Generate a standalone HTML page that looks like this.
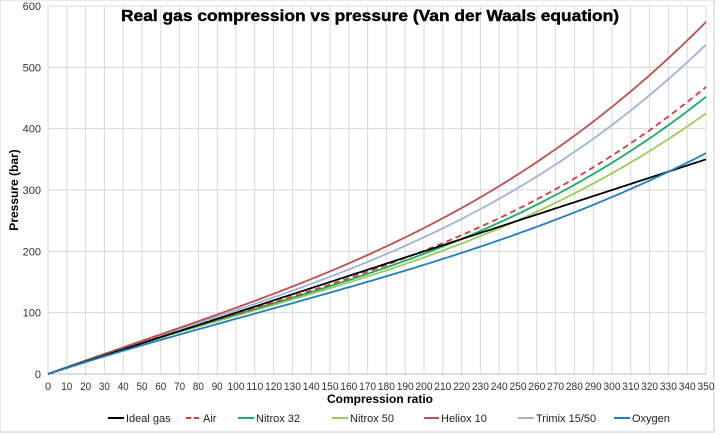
<!DOCTYPE html>
<html><head><meta charset="utf-8"><style>
html,body{margin:0;padding:0;background:#fff;width:720px;height:435px;overflow:hidden}
svg{display:block;font-family:"Liberation Sans",sans-serif}
</style></head><body>
<svg id="s" width="720" height="435" viewBox="0 0 720 435">
<rect x="0" y="0" width="714" height="432" fill="#fff" stroke="#d0d0d0" stroke-width="1"/>
<g id="grid"></g>
<g id="series"></g>
<text x="370" y="21" text-anchor="middle" font-size="16" font-weight="bold" textLength="498" lengthAdjust="spacingAndGlyphs" stroke="#000" stroke-width="0.4">Real gas compression vs pressure (Van der Waals equation)</text>
<text x="380" y="403" text-anchor="middle" font-size="12" font-weight="bold">Compression ratio</text>
<text transform="translate(18,190) rotate(-90)" text-anchor="middle" font-size="12" font-weight="bold">Pressure (bar)</text>
<g id="legend" font-size="11" fill="#222"></g>
</svg>
<script>
var X0=48,X1=706,Y0=374,Y1=6;
function px(r){return X0+(X1-X0)*r/350}
function py(p){return Y0-(Y0-Y1)*p/600}
var g=document.getElementById('grid'),h='';
for(var i=0;i<=35;i++){var x=px(i*10);h+='<line x1="'+x+'" y1="'+Y1+'" x2="'+x+'" y2="'+Y0+'" stroke="#d9d9d9" stroke-width="1"/>';
var lbl=String(i*10);var tl=lbl.length==1?'':' textLength="'+(lbl.length==2?11:17)+'" lengthAdjust="spacingAndGlyphs"';
h+='<text x="'+x+'" y="390" text-anchor="middle" font-size="11" fill="#333"'+tl+'>'+lbl+'</text>';}
for(var j=0;j<=6;j++){var y=py(j*100);h+='<line x1="'+X0+'" y1="'+y+'" x2="'+X1+'" y2="'+y+'" stroke="#d9d9d9" stroke-width="1"/>';
h+='<text x="41" y="'+(y+4)+'" text-anchor="end" font-size="11" fill="#333">'+(j*100)+'</text>';}
h+='<line x1="'+X0+'" y1="'+Y0+'" x2="'+X1+'" y2="'+Y0+'" stroke="#bbb"/>';
g.innerHTML=h;
var S=[
["Ideal gas","#000",[100,200,350],0,108,126],
["Air","#d93a3a",[98,201,468],1,186,203],
["Nitrox 32","#1aab6a",[97,196,452],0,238,256],
["Nitrox 50","#9ccd5a",[95,190,425],0,332,350],
["Heliox 10","#c0504d",[108,238,574],0,424,441],
["Trimix 15/50","#9fb4d8",[104,223,537],0,518,536],
["Oxygen","#1f7fc0",[90,178,360],0,614,632]];
var order=[5,4,3,2,1,0,6],out='';
function interp(v,r){var xs=[0,100,200,350],ys=[0,v[0],v[1],v[2]],s=0;
for(var i=0;i<4;i++){var t=ys[i];for(var k=0;k<4;k++)if(k!=i)t*=(r-xs[k])/(xs[i]-xs[k]);s+=t}return s}
order.forEach(function(ii){var s=S[ii],d='';
for(var r=0;r<=350;r+=2){d+=(r?'L':'M')+px(r).toFixed(1)+' '+py(interp(s[2],r)).toFixed(1)}
out+='<path d="'+d+'" fill="none" stroke="'+s[1]+'" stroke-width="1.8"'+(s[3]?' stroke-dasharray="6,4"':'')+'/>';});
document.getElementById('series').innerHTML=out;
var L='';S.forEach(function(s){L+='<line x1="'+s[4]+'" y1="418" x2="'+(s[5]-2)+'" y2="418" stroke="'+s[1]+'" stroke-width="2"'+(s[3]?' stroke-dasharray="5,3"':'')+'/>';
L+='<text x="'+s[5]+'" y="422">'+s[0]+'</text>';});
document.getElementById('legend').innerHTML=L;
</script>
</body></html>
